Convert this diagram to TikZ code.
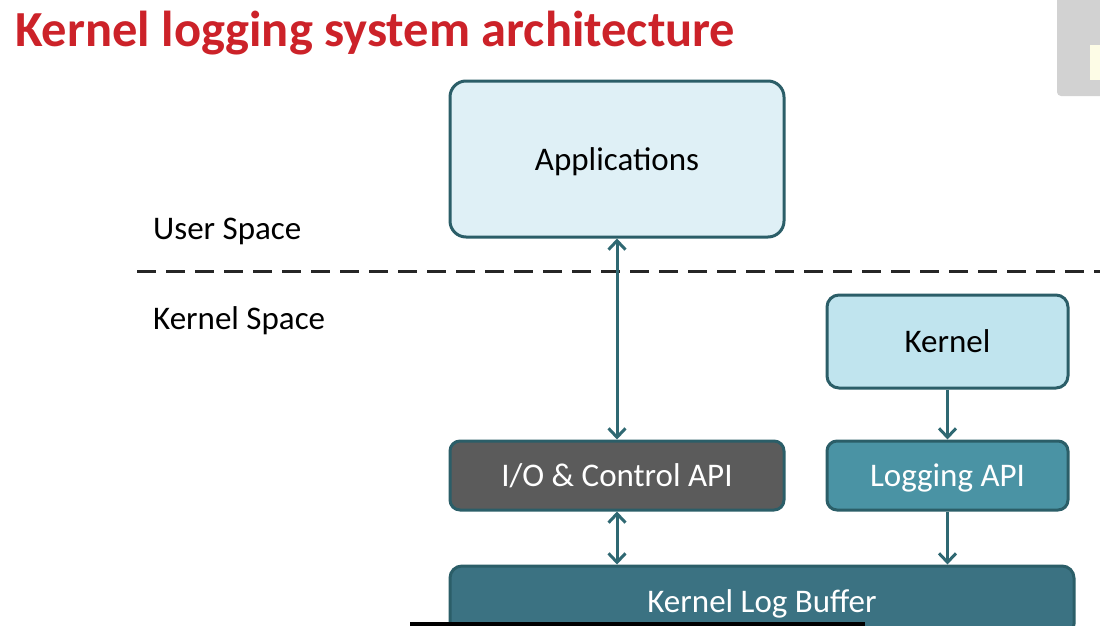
\documentclass[tikz,border=0pt]{standalone}
\usepackage{fontspec}
\setmainfont{Carlito}
\usetikzlibrary{arrows.meta}
\definecolor{edge}{HTML}{2B5E68}
\definecolor{appfill}{HTML}{DFF0F6}
\definecolor{kernfill}{HTML}{C0E4EE}
\definecolor{iofill}{HTML}{5B5B5B}
\definecolor{logfill}{HTML}{4A93A4}
\definecolor{buffill}{HTML}{3B7282}
\definecolor{arrowc}{HTML}{2F6872}
\definecolor{titlered}{HTML}{CC2229}
\tikzset{
  box/.style={draw=edge, line width=3pt, rounded corners=16pt, font=\fontsize{33}{38}\selectfont, inner sep=0pt, text height=24pt, text depth=2pt},
  conn/.style={draw=arrowc, line width=3pt, -{Straight Barb[length=9pt,width=17pt,line width=3pt]}},
  dconn/.style={draw=arrowc, line width=3pt, {Straight Barb[length=9pt,width=17pt,line width=3pt]}-{Straight Barb[length=9pt,width=17pt,line width=3pt]}},
  lbl/.style={anchor=west, font=\fontsize{33}{38}\selectfont, inner sep=0pt, text height=24pt, text depth=2pt}
}
\begin{document}
\begin{tikzpicture}[x=1pt,y=-1pt]
\useasboundingbox (0,0) rectangle (1100,626);
\clip (0,0) rectangle (1100,626);
\fill[white] (0,0) rectangle (1100,626);
% overlay in top-right corner
\fill[gray!35, rounded corners=4pt] (1057,-10) rectangle (1110,96);
\fill[black!8!yellow!10!white] (1090,45) rectangle (1100,80);
% title
\node[anchor=west, inner sep=0pt, text=titlered, font=\fontsize{50.5}{56}\selectfont\bfseries] (title) at (15,33) {Kernel logging system architecture};
% labels
\node[lbl] (us) at (153,228) {User Space};
\node[lbl] (ks) at (153,318) {Kernel Space};
% dashed separator
\coordinate (dl) at (137,271);
\coordinate (dr) at (1100,271);
\draw[line width=3pt, black!85, dash pattern=on 19pt off 10pt] (dl) -- (dr);
% boxes
\node[box, fill=appfill, minimum width=334pt, minimum height=156pt] (app) at (617,159) {Applications};
\node[box, fill=kernfill, minimum width=241pt, minimum height=93pt, rounded corners=12pt] (kern) at (947.5,341.5) {Kernel};
\node[box, fill=iofill, text=white, minimum width=334pt, minimum height=69pt, rounded corners=10pt] (io) at (617,475.5) {I/O \& Control API};
\node[box, fill=logfill, text=white, minimum width=241pt, minimum height=69pt, rounded corners=10pt] (log) at (947.5,475.5) {Logging API};
\node[box, fill=buffill, text=white, minimum width=624pt, minimum height=70pt, rounded corners=12pt] (buf) at (762,601) {Kernel Log Buffer};
% connectors
\draw[dconn] (app.south) -- (io.north);
\draw[conn] (kern.south) -- (log.north);
\draw[dconn] (io.south) -- (io.south |- buf.north);
\draw[conn] (log.south) -- (log.south |- buf.north);
% bottom black bar
\fill[black] (410,622) rectangle (865,630);
\end{tikzpicture}
\end{document}
